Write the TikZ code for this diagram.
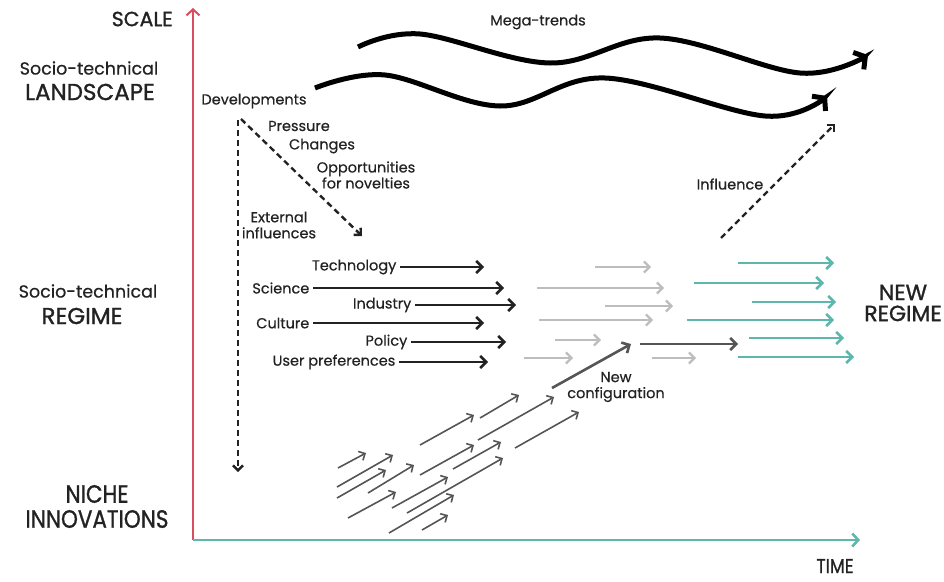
\documentclass[tikz,border=0pt]{standalone}
\usepackage{fontspec}
\setmainfont{Poppins}
\newfontfamily\medfont{Poppins}[FakeBold=0.5]
\newfontfamily\bigfont{Poppins}[FakeBold=1.2]
\usetikzlibrary{arrows.meta}
\definecolor{axred}{HTML}{D94E5E}
\definecolor{teal2}{HTML}{5DB7AC}
\definecolor{lgrey}{HTML}{BDBDBD}
\definecolor{dgrey}{HTML}{555555}
\definecolor{blk}{HTML}{222222}
\definecolor{txt}{HTML}{222222}
\begin{document}
\begin{tikzpicture}[x=1pt,y=-1pt,
  lbl/.style={font=\medfont\fontsize{14.5}{16}\selectfont, text=txt, inner sep=0pt, align=center},
  mid/.style={font=\medfont\fontsize{17.5}{20}\selectfont, text=txt, inner sep=0pt, align=center},
  big/.style={font=\bigfont\fontsize{23}{26}\selectfont, text=txt, inner sep=0pt, align=center},
  rlbl/.style={font=\medfont\fontsize{14.5}{16}\selectfont, text=txt, inner sep=3.5pt, anchor=east},
  blkarrow/.style={draw=blk, line width=2.6pt, -{Straight Barb[length=6pt,width=12pt]}},
  greyarrow/.style={draw=lgrey, line width=2.2pt, -{Straight Barb[length=5.5pt,width=11pt]}},
  tealarrow/.style={draw=teal2, line width=2.6pt, -{Straight Barb[length=6pt,width=12pt]}},
  nichearrow/.style={draw=dgrey, line width=1.6pt, -{Straight Barb[length=5pt,width=10pt]}},
  confarrow/.style={draw=dgrey, line width=2.6pt, -{Straight Barb[length=6pt,width=12pt]}},
  dasharrow/.style={draw=blk, line width=2.4pt, dash pattern=on 6pt off 4pt, -{Straight Barb[length=5pt,width=10pt]}},
  wave/.style={draw=black, line width=5pt, -{Straight Barb[length=8pt,width=20pt]}},
]
\useasboundingbox (0,0) rectangle (944,581);

% axes
\coordinate (origin) at (193,540);
\coordinate (ytop) at (193,8);
\coordinate (xend) at (860,540);
\draw[draw=axred, line width=2pt, -{Straight Barb[length=6pt,width=13pt]}] (origin) -- (ytop);
\draw[draw=teal2, line width=2.6pt, -{Straight Barb[length=6pt,width=13pt]}] (origin) -- (xend);

% left labels
\node[big, font=\bigfont\fontsize{20.5}{24}\selectfont, anchor=east] (scale) at (173,19) {SCALE};
\node[mid] (stl) at (89,68) {Socio-technical};
\node[big] (landscape) at (90,92) {LANDSCAPE};
\node[mid] (str) at (88,291) {Socio-technical};
\node[big] (regime) at (82,316) {REGIME};
\node[big, font=\bigfont\fontsize{25}{28}\selectfont, xscale=0.86, transform shape] (niche) at (97,494) {NICHE};
\node[big, font=\bigfont\fontsize{25}{28}\selectfont, xscale=0.86, transform shape] (innov) at (97,519) {INNOVATIONS};
\node[big, font=\bigfont\fontsize{20}{24}\selectfont, xscale=0.86, transform shape, anchor=base] (time) at (835,573) {TIME};
\node[big, font=\bigfont\fontsize{22}{25}\selectfont] (newregime) at (903,303) {NEW\\[-4pt]REGIME};

% mega trends
\node[lbl] (mega) at (538,22) {Mega-trends};
\coordinate (w1s) at (358,47);
\coordinate (w2s) at (315,88);
\draw[wave] plot[smooth, tension=0.6] coordinates {(w1s) (420,34) (550,63) (660,38) (800,73) (868,55)};
\draw[wave] plot[smooth, tension=0.6] coordinates {(w2s) (385,75) (500,106) (605,78) (765,116) (827,96)};

% landscape developments
\node[lbl] (dev) at (254,101) {Developments};
\node[lbl] (press) at (299,126) {Pressure};
\node[lbl] (chg) at (322,146) {Changes};
\node[lbl] (opp) at (366,175) {Opportunities\\for novelties};
\node[lbl] (ext) at (279,225) {External\\influences};
\coordinate (dvs) at (238,120);
\coordinate (dve) at (238,472);
\coordinate (dds) at (241,119);
\coordinate (dde) at (362,236);
\draw[dasharrow] (dvs) -- (dve);
\draw[dasharrow] (dds) -- (dde);

% influence
\node[lbl] (infl) at (730,184) {Influence};
\coordinate (ifs) at (721,238);
\coordinate (ife) at (835,124);
\draw[dasharrow] (ifs) -- (ife);

% regime black arrows
\node[rlbl] (tech) at (400,267) {Technology};
\node[rlbl] (sci) at (313,288) {Science};
\node[rlbl] (ind) at (415,305) {Industry};
\node[rlbl] (cul) at (313,323) {Culture};
\node[rlbl] (pol) at (411,342) {Policy};
\node[rlbl] (usr) at (399,362) {User preferences};
\coordinate (techE) at (484,267);
\coordinate (sciE) at (504,288);
\coordinate (indE) at (516,305);
\coordinate (culE) at (484,323);
\coordinate (polE) at (506,342);
\coordinate (usrE) at (488,362);
\draw[blkarrow] (tech.east) -- (techE);
\draw[blkarrow] (sci.east) -- (sciE);
\draw[blkarrow] (ind.east) -- (indE);
\draw[blkarrow] (cul.east) -- (culE);
\draw[blkarrow] (pol.east) -- (polE);
\draw[blkarrow] (usr.east) -- (usrE);

% grey arrows
\foreach \i/\xa/\ya/\xb/\yb in {1/595/267/651/267, 2/537/288/664/288, 3/605/306/673/306, 4/539/320/653/320, 5/555/340/601/340, 6/524/358/573/358, 7/652/358/696/358}{
  \coordinate (g\i a) at (\xa,\ya);
  \coordinate (g\i b) at (\xb,\yb);
  \draw[greyarrow] (g\i a) -- (g\i b);
}

% teal arrows
\foreach \i/\xa/\ya/\xb/\yb in {1/738/263/834/263, 2/694/283/824/283, 3/752/302/836/302, 4/687/320/834/320, 5/749/338/844/338, 6/738/357/854/357}{
  \coordinate (t\i a) at (\xa,\ya);
  \coordinate (t\i b) at (\xb,\yb);
  \draw[tealarrow] (t\i a) -- (t\i b);
}

% new configuration
\node[lbl] (newconf) at (616,387) {New\\configuration};
\coordinate (ncs) at (552,388);
\coordinate (nce) at (631,344);
\coordinate (nos) at (640,344);
\coordinate (noe) at (738,344);
\draw[confarrow] (ncs) -- (nce);
\draw[confarrow] (nos) -- (noe);

% niche arrows
\foreach \i/\xa/\ya/\xb/\yb in {
  2/480/418/519/395, 3/420/445/474/415, 4/478/440/554/397, 5/515/448/579/412,
  6/420/475/474/445, 7/453/469/501/442, 8/338/468/366/453, 9/337/487/393/455,
  10/337/498/386/470, 11/368/493/414/465, 12/348/518/396/492, 13/392/508/448/477,
  14/407/513/503/458, 15/389/533/454/495, 16/422/530/448/515}{
  \coordinate (n\i a) at (\xa,\ya);
  \coordinate (n\i b) at (\xb,\yb);
  \draw[nichearrow] (n\i a) -- (n\i b);
}
\end{tikzpicture}
\end{document}
